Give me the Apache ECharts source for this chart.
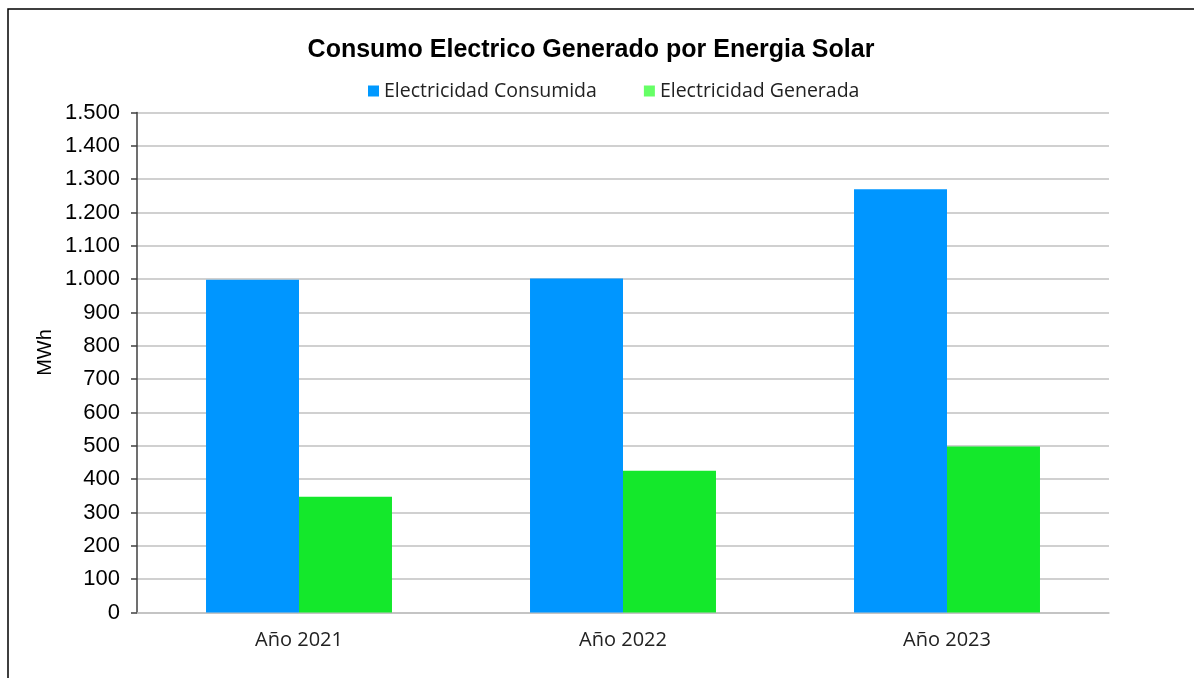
<!DOCTYPE html>
<html>
<head>
<meta charset="utf-8">
<script src="https://cdn.jsdelivr.net/npm/echarts@6/dist/echarts.min.js"></script>
<style>
  html, body { margin: 0; padding: 0; background: #fff; }
  #chart { width: 1194px; height: 678px; }
</style>
</head>
<body>
<div id="chart"></div>
<script>
// datos
const years = ['Año 2021', 'Año 2022', 'Año 2023']
const consumida = [998, 1002, 1270]
const generada = [347, 425, 498]
const seriesNames = ['Electricidad Consumida', 'Electricidad Generada']

const chart = echarts.init(document.getElementById('chart'))

// separador de miles con punto
const fmt = v => String(v).replace(/\B(?=(\d{3})+(?!\d))/g, '.')

chart.setOption({
  animation: false,
  graphic: [
    { // marco (solo borde izquierdo y superior visibles)
      type: 'rect',
      shape: { x: 8, y: 9, width: 1300, height: 800 },
      style: { fill: 'none', stroke: '#000', lineWidth: 1.5 }
    },
    { // titulo del eje y
      type: 'text',
      x: 45.5,
      y: 352.5,
      rotation: Math.PI / 2,
      style: {
        text: 'MWh',
        fontFamily: 'Liberation Sans',
        fontSize: 20,
        fill: '#000',
        align: 'center',
        verticalAlign: 'middle'
      }
    }
  ],
  title: {
    text: 'Consumo Electrico Generado por Energia Solar',
    left: 586,
    top: 33,
    textAlign: 'center',
    textStyle: { fontFamily: 'Liberation Sans', fontWeight: 'bold', fontSize: 25, color: '#000' }
  },
  legend: {
    top: 76,
    left: 363,
    itemWidth: 11,
    itemHeight: 11,
    itemGap: 47,
    icon: 'rect',
    textStyle: { fontFamily: 'Open Sans', fontSize: 19.5, color: '#222' },
    data: [
      { name: seriesNames[0], itemStyle: { color: '#0099ff' } },
      { name: seriesNames[1], itemStyle: { color: '#66ff66' } }
    ]
  },
  grid: { left: 137, right: 85, top: 112.5, bottom: 65.5 },
  xAxis: {
    type: 'category',
    data: years,
    axisLine: { show: true, lineStyle: { color: '#c0c0c0', width: 1.5 } },
    axisTick: { show: false },
    axisLabel: { fontFamily: 'Open Sans', fontSize: 20, color: '#222', margin: 18 }
  },
  yAxis: {
    type: 'value',
    min: 0,
    max: 1500,
    interval: 100,
    axisLine: { show: true, lineStyle: { color: '#404040', width: 1.5 } },
    axisTick: { show: true, length: 6, lineStyle: { color: '#404040', width: 1.5 } },
    axisLabel: { fontFamily: 'Liberation Sans', fontSize: 22, color: '#000', margin: 17, formatter: fmt },
    splitLine: { lineStyle: { color: '#c0c0c0', width: 1.5 } }
  },
  series: [
    {
      name: seriesNames[0],
      type: 'bar',
      data: consumida,
      barGap: '0%',
      barCategoryGap: '42.6%',
      itemStyle: { color: '#0096ff' }
    },
    {
      name: seriesNames[1],
      type: 'bar',
      data: generada,
      barGap: '0%',
      barCategoryGap: '42.6%',
      itemStyle: { color: '#14e82b' }
    }
  ]
})
</script>
</body>
</html>
